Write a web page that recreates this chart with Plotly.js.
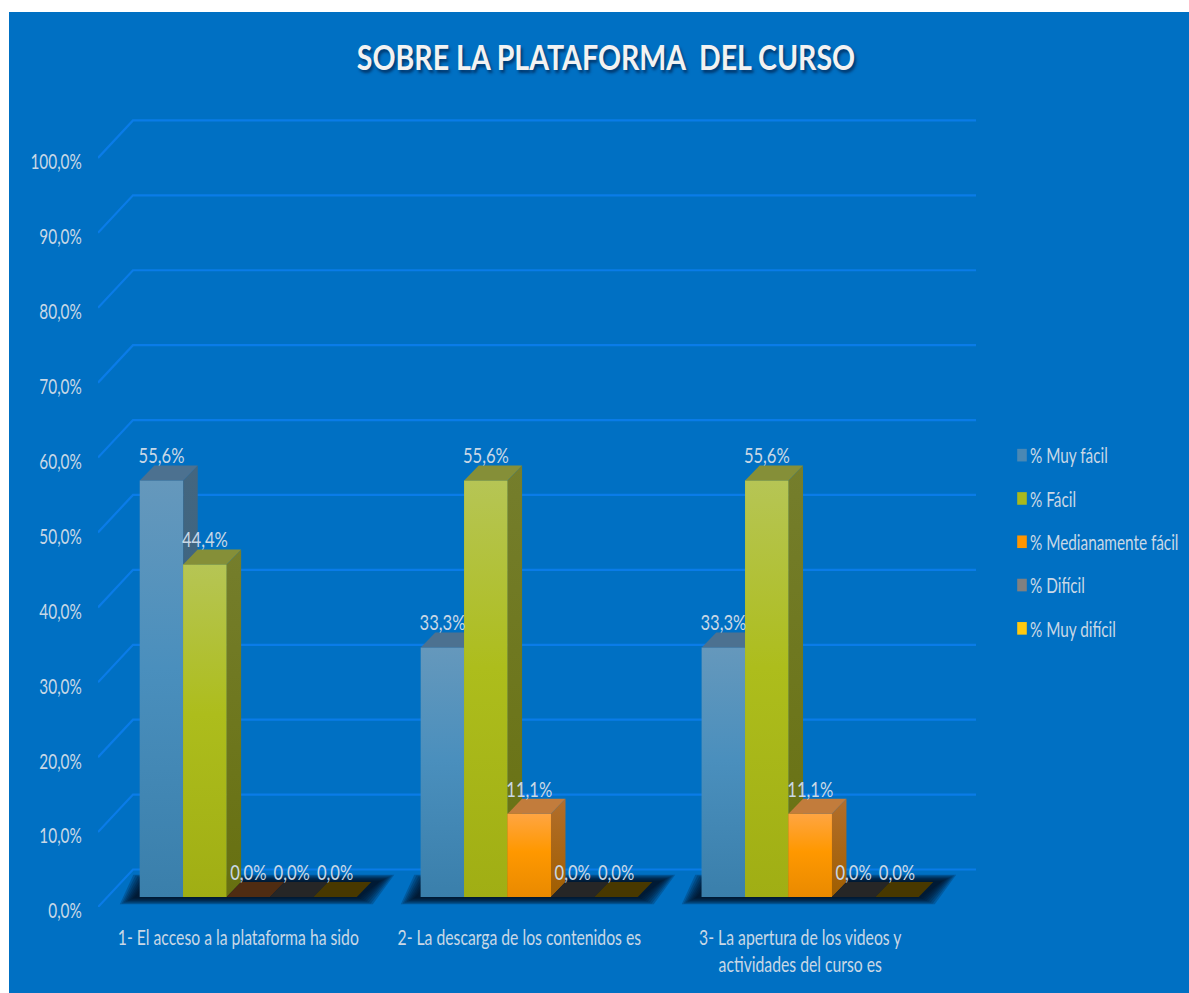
<!DOCTYPE html>
<html>
<head>
<meta charset="utf-8">
<script src="https://cdn.plot.ly/plotly-3.0.1.min.js"></script>
<style>
html,body{margin:0;padding:0;background:#fff;overflow:hidden}
#chart{position:absolute;left:9px;top:12px;width:1180px;height:981px}
</style>
</head>
<body>
<div id="chart"></div>
<script>
const categories = [
  "1- El acceso a la plataforma ha sido",
  "2- La descarga de los contenidos es",
  "3- La apertura de los videos y<br>actividades del curso es"
];
const seriesNames = ["% Muy fácil", "% Fácil", "% Medianamente fácil", "% Difícil", "% Muy difícil"];
const muyFacil = [55.6, 33.3, 33.3];
const facil = [44.4, 55.6, 55.6];
const medianamente = [0, 11.1, 11.1];
const dificil = [0, 0, 0];
const muyDificil = [0, 0, 0];
const seriesValues = [muyFacil, facil, medianamente, dificil, muyDificil];

const swatchColors = ["#4a88b4", "#a9b81c", "#ff9500", "#808080", "#ffc90e"];
const frontGradients = [
  ["#6598bc", "#4a8fbd", "#3a7fab"],
  ["#b6c555", "#adbd1c", "#a0ae14"],
  ["#ffa542", "#ff9800", "#e98a00"],
  ["#808080", "#808080", "#808080"],
  ["#ffc90e", "#ffc90e", "#ffc90e"]
];
const sideColors = [["#44667f", "#2f6388"], ["#757e2c", "#677010"], ["#b26e2c", "#a05e00"], ["#555555", "#555555"], ["#8a6c00", "#8a6c00"]];
const topColors = ["#4c7190", "#858f38", "#c27c3c", "#262626", "#483800"];
const zeroTopColors = ["#2a4050", "#3f4510", "#4f2c12", "#262626", "#483800"];

const FONT = "Lato, 'Liberation Sans', sans-serif";
const GRID = "#0a7ce8", BLUE = "#0070c3", LABEL = "#c9d8e6";
const PX_X = 281, PX_Y = 7.49;                 // pixels per axis unit
const BAR_W = 43.4 / PX_X;
const DX = 14.5 / PX_X, DY = 15 / PX_Y;        // bar depth
const WALL_DX = 35 / PX_X, WALL_DY = 37.5 / PX_Y; // wall depth
const FLOOR = 10 / PX_Y;                       // bars stand in front of the zero plane
const XMIN = -0.535, XMAX = 2.59, YMAX = 106;

const traces = [];
const range = {x: [XMIN, XMAX], y: [0, YMAX]};

// walls
[0,10,20,30,40,50,60,70,80,90,100].forEach(v => {
  traces.push({type:"scatter", mode:"lines", x:[XMIN, XMIN+WALL_DX, XMAX], y:[v, v+WALL_DY, v+WALL_DY],
    line:{color:GRID, width:2.2}, showlegend:false, hoverinfo:"skip", cliponaxis:false});
});

// floor shadow per category (soft edge built from stacked translucent polygons)
categories.forEach((c, i) => {
  const L = i - 2.5*BAR_W, R = i + 2.5*BAR_W;
  [14,12,10,8,6,4,2,0].forEach(p => {
    const px = p / PX_X, py = p / PX_Y;
    traces.push({type:"scatter", mode:"none", fill:"toself", fillcolor:"rgba(0,12,30,0.22)",
      x:[L-px-6/PX_X, R+px+2/PX_X, R+DX+px+9/PX_X, L+DX-px-7/PX_X],
      y:[FLOOR-py*0.45-1/PX_Y, FLOOR-py*0.45-1/PX_Y, FLOOR+DY+py*0.45+1/PX_Y, FLOOR+DY+py*0.45+1/PX_Y],
      showlegend:false, hoverinfo:"skip"});
  });
});

// bars, one overlay subplot per series so that later bars paint over earlier ones
seriesValues.forEach((vals, s) => {
  const xa = "x" + (s+2), ya = "y" + (s+2);
  const xs = categories.map((c, i) => i + (s-2)*BAR_W);
  traces.push({type:"bar", name:seriesNames[s], x:xs, y:vals, base:FLOOR, width:BAR_W, xaxis:xa, yaxis:ya,
    marker:{color:swatchColors[s], line:{width:0}}, legendgroup:"s"+s, showlegend:true, hoverinfo:"name+y"});
  vals.forEach((v, i) => {
    const l = xs[i] - BAR_W/2, r = xs[i] + BAR_W/2, t = v + FLOOR;
    if (v > 0) {
      traces.push({type:"scatter", mode:"none", fill:"toself", xaxis:xa, yaxis:ya,
        x:[l, r, r, l], y:[FLOOR, FLOOR, t, t],
        fillgradient:{type:"vertical", colorscale:[[0,frontGradients[s][2]],[0.55,frontGradients[s][1]],[1,frontGradients[s][0]]]},
        showlegend:false, hoverinfo:"skip"});
      traces.push({type:"scatter", mode:"none", fill:"toself", xaxis:xa, yaxis:ya,
        x:[r, r+DX, r+DX, r], y:[FLOOR, FLOOR+DY, t+DY, t],
        fillgradient:{type:"vertical", colorscale:[[0,sideColors[s][1]],[1,sideColors[s][0]]]},
        showlegend:false, hoverinfo:"skip"});
    }
    traces.push({type:"scatter", mode:"none", fill:"toself", xaxis:xa, yaxis:ya,
      x:[l, r, r+DX, l+DX], y:[t, t, t+DY, t+DY],
      fillcolor: v > 0 ? topColors[s] : zeroTopColors[s],
      showlegend:false, hoverinfo:"skip"});
  });
});

// data labels on the top subplot
seriesValues.forEach((vals, s) => {
  traces.push({type:"scatter", mode:"text", xaxis:"x6", yaxis:"y6",
    x:categories.map((c, i) => i + (s-2)*BAR_W),
    y:vals.map(v => v + FLOOR + DY - 3/PX_Y),
    text:vals.map(v => v.toFixed(1).replace(".", ",") + "%"),
    textposition:"top center", cliponaxis:false,
    textfont:{family:FONT, size:21, color:LABEL},
    showlegend:false, hoverinfo:"skip"});
});

const layout = {
  width:1180, height:981,
  margin:{l:89, r:213, t:101, b:86, autoexpand:false},
  paper_bgcolor:BLUE, plot_bgcolor:"rgba(0,0,0,0)",
  separators:",.",
  showlegend:true,
  barmode:"overlay",
  title:{text:"SOBRE LA PLATAFORMA  DEL CURSO", xref:"container", yref:"container",
    x:(606-9)/1180, xanchor:"center", y:1-(58-12)/981, yanchor:"middle",
    font:{family:FONT, size:34, color:"#f2f2f2", weight:700, shadow:"2px 3px 3px #00386e"}},
  xaxis:{range:range.x, showgrid:false, zeroline:false, showline:false,
    tickmode:"array", tickvals:[0-10/PX_X, 1-10/PX_X, 2-10/PX_X], ticktext:categories, tickangle:0,
    ticks:"outside", ticklen:12, tickcolor:"rgba(0,0,0,0)",
    tickfont:{family:FONT, size:21, color:LABEL}},
  yaxis:{range:range.y, showgrid:false, zeroline:false, showline:false,
    tickmode:"linear", tick0:0, dtick:10, tickformat:".1f", ticksuffix:"%",
    ticks:"outside", ticklen:11, tickcolor:"rgba(0,0,0,0)",
    tickfont:{family:FONT, size:21, color:LABEL}},
  legend:{x:(990-98)/878, xanchor:"left", y:(907-435)/794, yanchor:"top",
    bgcolor:"rgba(0,0,0,0)", tracegroupgap:13, itemclick:false, itemdoubleclick:false,
    entrywidth:156, entrywidthmode:"pixels",
    font:{family:FONT, size:21, color:LABEL}}
};
for (let k = 2; k <= 6; k++) {
  layout["xaxis"+k] = {overlaying:"x", range:range.x, visible:false, fixedrange:true};
  layout["yaxis"+k] = {overlaying:"y", range:range.y, visible:false, fixedrange:true};
}

// the reference's lettering is horizontally condensed: squeeze each text about its own anchor
function squeeze(el, s, dy) {
  const x = parseFloat(el.getAttribute("x")) || 0;
  const t = el.getAttribute("transform") || "";
  el.setAttribute("transform", t + " translate(" + (x*(1-s)) + "," + (dy||0) + ") scale(" + s + ",1)");
}

Plotly.newPlot("chart", traces, layout, {displayModeBar:false, responsive:false}).then(gd => {
  const q = (sel, s, dy) => gd.querySelectorAll(sel).forEach(el => squeeze(el, s, dy));
  q(".gtitle", 0.84);
  q(".ytick text", 0.73, 4);
  q(".xtick text", 0.75);
  q(".textpoint text", 0.79);
  q(".legend text", 0.73);
  gd.querySelectorAll(".legend .legendsymbols").forEach(el => {
    el.setAttribute("transform", "translate(16,0) scale(0.8,1.05)");
  });
});
</script>
</body>
</html>
